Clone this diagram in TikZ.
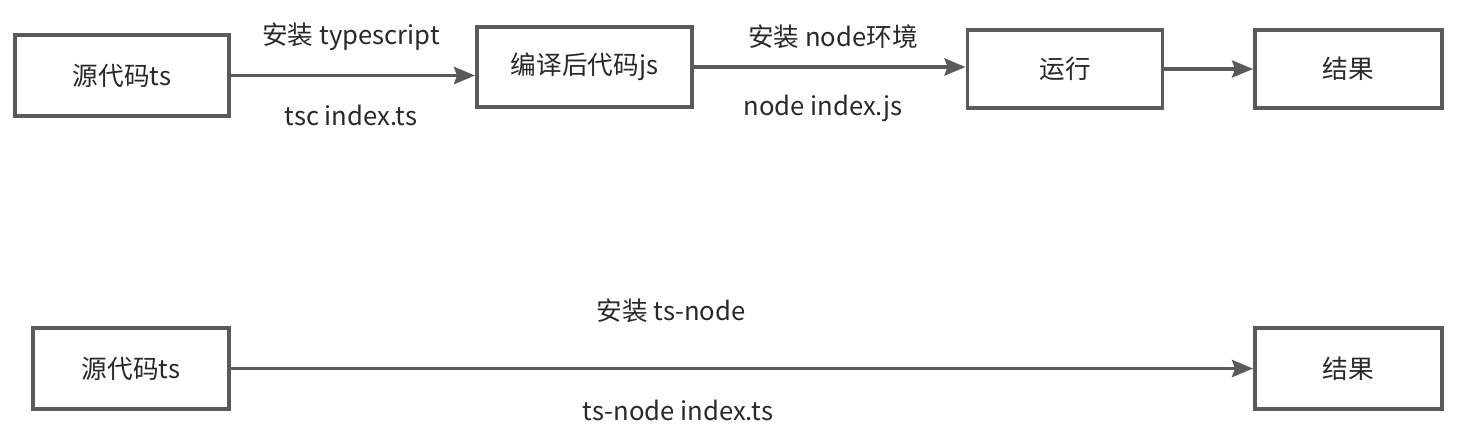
\documentclass[tikz,border=0pt]{standalone}
\usepackage{fontspec}
\setmainfont{Noto Sans CJK SC}
\usetikzlibrary{arrows.meta}
\definecolor{lineg}{RGB}{90,90,90}
\definecolor{textg}{RGB}{40,40,40}

\begin{document}
\begin{tikzpicture}[x=0.02cm, y=-0.02cm,
  font=\fontsize{14.6}{17}\selectfont, text=textg,
  box/.style={draw=lineg, line width=2.2pt, fill=white, inner sep=0pt},
  flow/.style={draw=lineg, line width=2.2pt, -{Stealth[length=0.42cm, width=0.34cm, inset=0.06cm]}},
  lbl/.style={inner sep=1pt}]
% canvas: 1460 x 447 px, 1px = 0.02cm
\useasboundingbox (0,0) rectangle (1460,447);

% ---- top row: tsc + node ----
\node[box, minimum width=4.28cm, minimum height=1.62cm] (srcA) at (122,75.5) {源代码ts};
\node[box, minimum width=4.30cm, minimum height=1.60cm] (jsB) at (584.5,67) {编译后代码js};
\node[box, minimum width=3.90cm, minimum height=1.56cm] (runC) at (1065,69) {运行};
\node[box, minimum width=3.74cm, minimum height=1.56cm] (resD) at (1348.5,69) {结果};

\draw[flow] (srcA.east) -- (srcA.east -| jsB.west);
\draw[flow] (jsB.east) -- (jsB.east -| runC.west);
\draw[flow] (runC.east) -- (runC.east -| resD.west);

\node[lbl] (tsInstall) at (351,37) {安装 typescript};
\node[lbl] (tscCmd) at (351,115) {tsc index.ts};
\node[lbl] (nodeInstall) at (833,37) {安装 node环境};
\node[lbl] (nodeCmd) at (823,108) {node index.js};

% ---- bottom row: ts-node ----
\node[box, minimum width=3.92cm, minimum height=1.62cm] (srcE) at (131,368.5) {源代码ts};
\node[box, minimum width=3.74cm, minimum height=1.62cm] (resF) at (1348.5,368.5) {结果};

\draw[flow] (srcE.east) -- (resF.west);

\node[lbl] (tsnInstall) at (671,311) {安装 ts-node};
\node[lbl] (tsnCmd) at (678,410) {ts-node index.ts};
\end{tikzpicture}
\end{document}
